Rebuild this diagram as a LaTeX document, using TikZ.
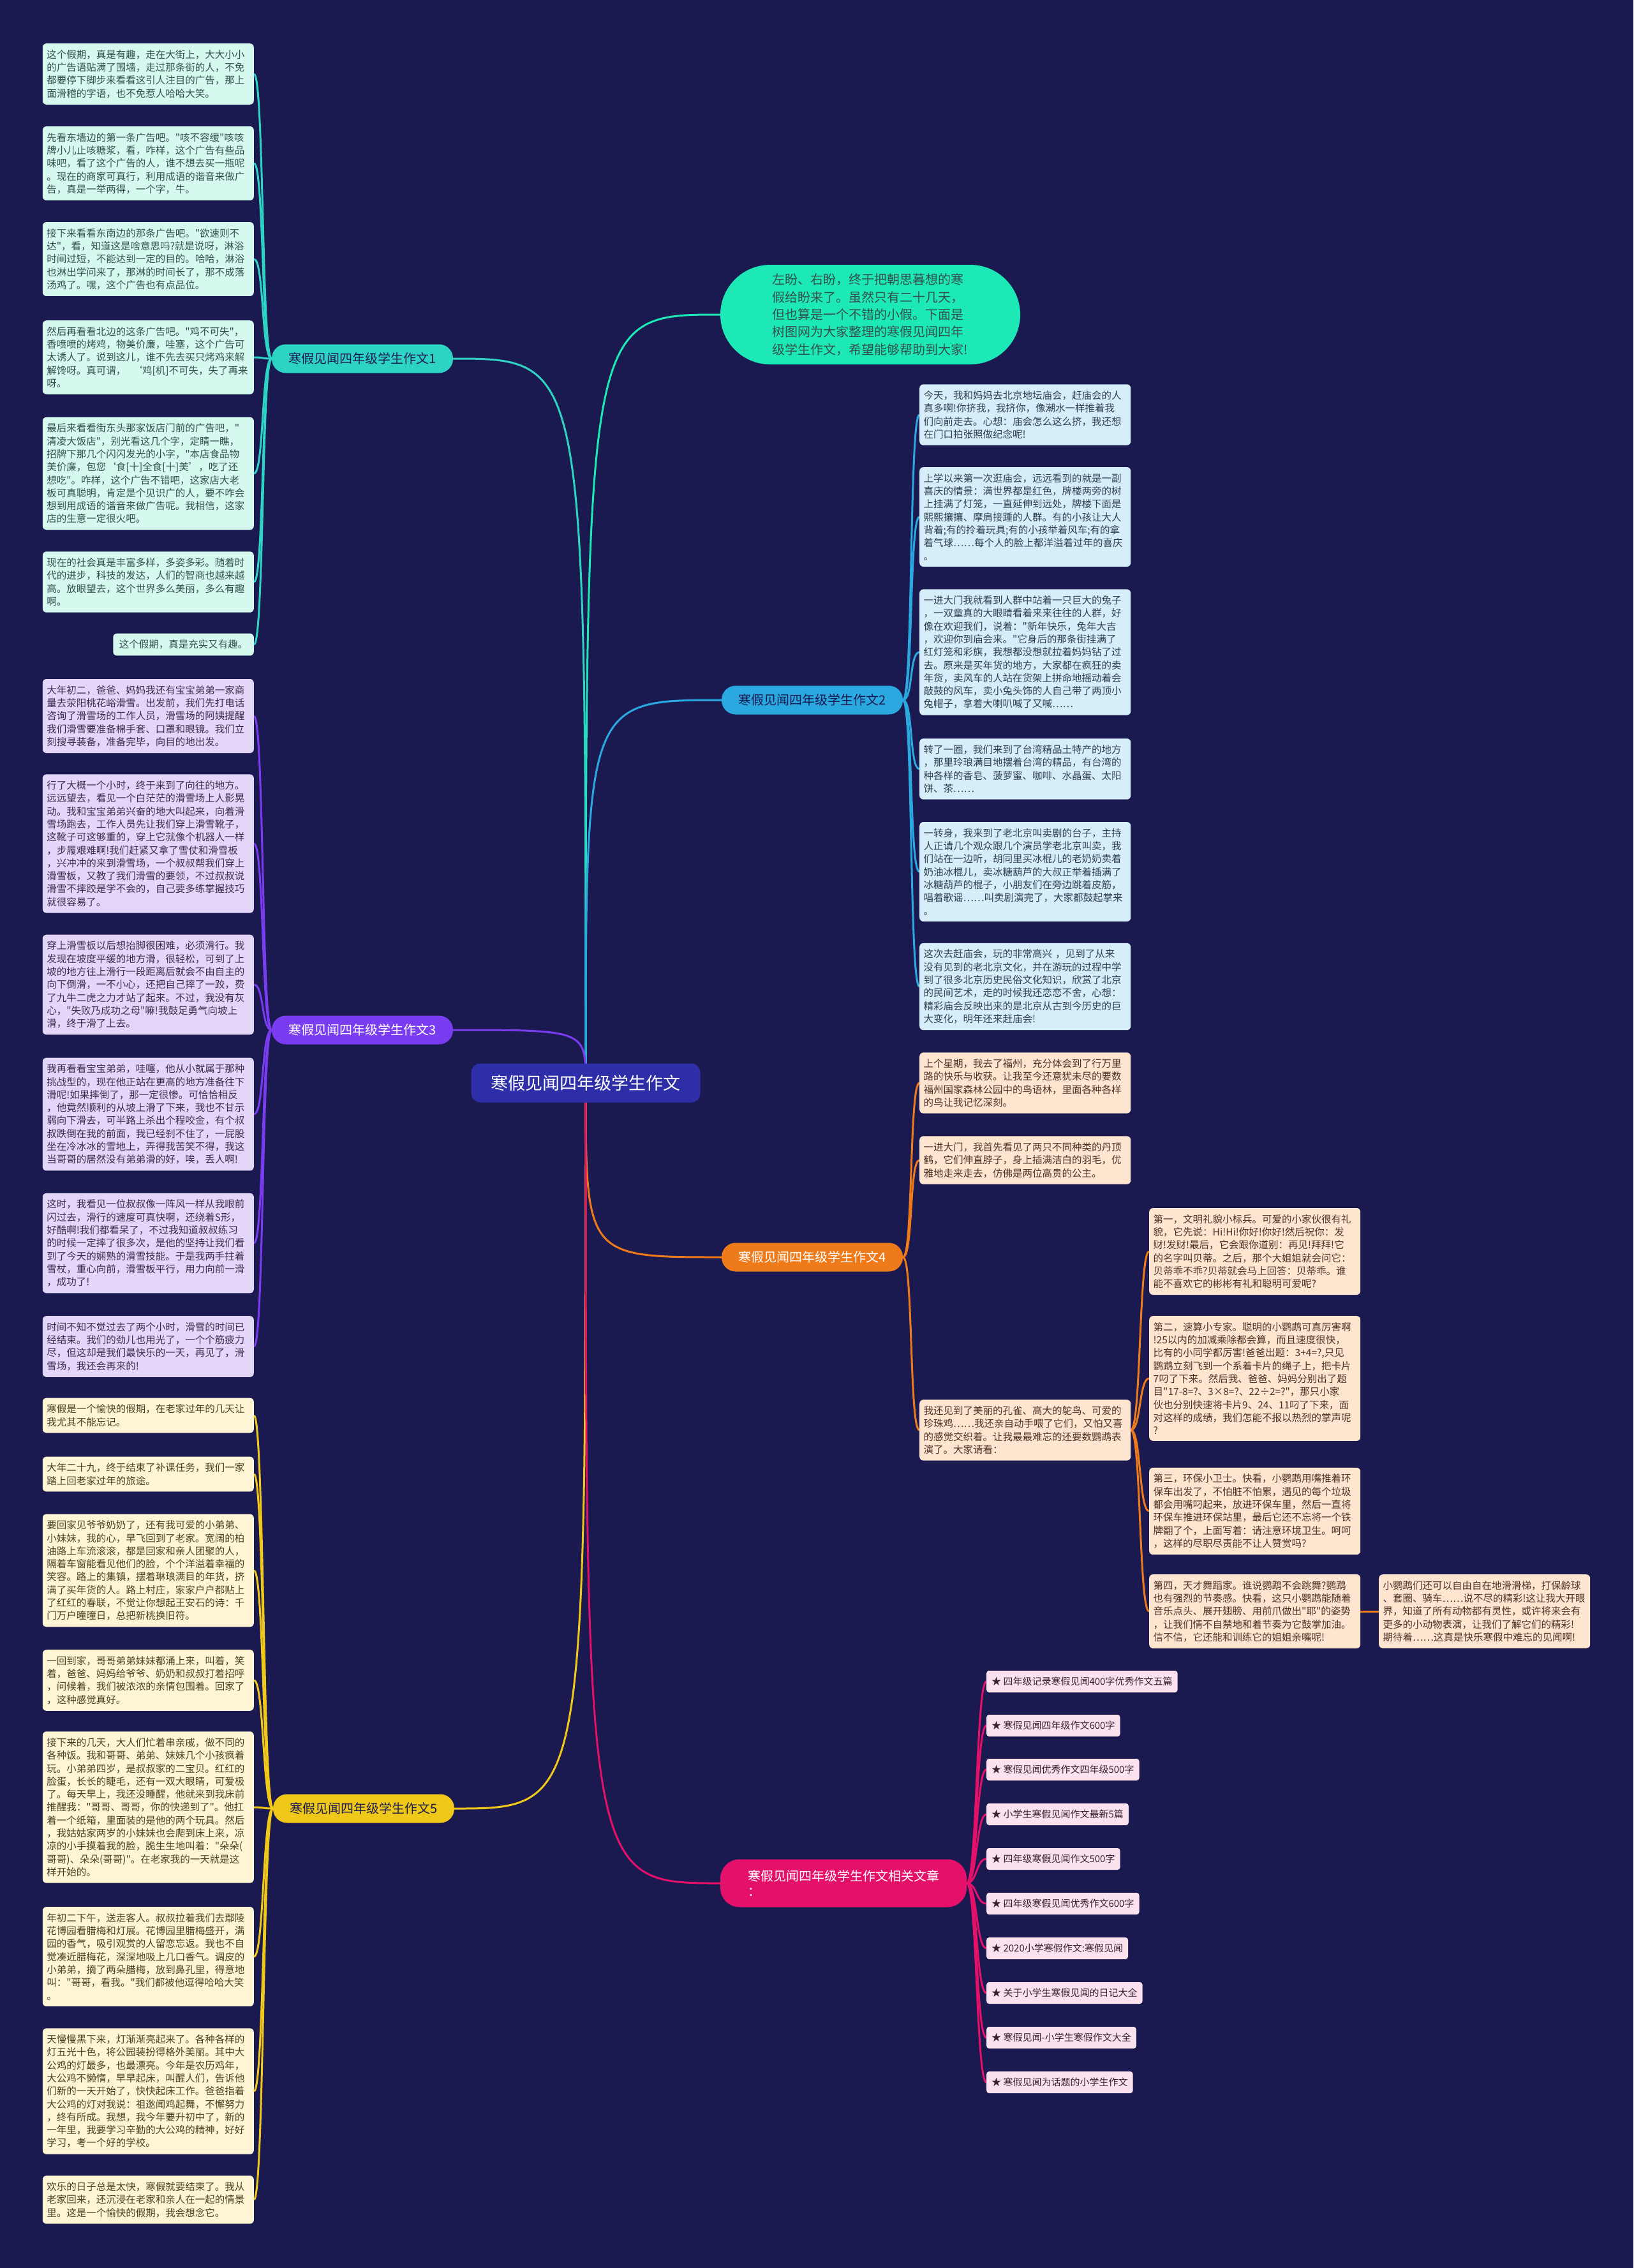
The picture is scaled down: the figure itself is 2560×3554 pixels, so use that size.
\documentclass[tikz,border=0pt]{standalone}
\usepackage{fontspec}
\setmainfont{Noto Sans CJK SC}[Ligatures=TeXOff]
\usetikzlibrary{calc}
\definecolor{bgc}{HTML}{1B1A50}
\definecolor{c1}{HTML}{2DD4C4}\definecolor{f1}{HTML}{D5F8EF}\definecolor{t1}{HTML}{34504C}
\definecolor{c2}{HTML}{2AA8E0}\definecolor{f2}{HTML}{D6EEFA}\definecolor{t2}{HTML}{2E4050}
\definecolor{c3}{HTML}{7A3CF0}\definecolor{f3}{HTML}{E4D6F8}\definecolor{t3}{HTML}{3A2D4D}
\definecolor{c4}{HTML}{EF7A1A}\definecolor{f4}{HTML}{FDE5CF}\definecolor{t4}{HTML}{4A3426}
\definecolor{c5}{HTML}{EFC81A}\definecolor{f5}{HTML}{FDF5D3}\definecolor{t5}{HTML}{4A4226}
\definecolor{c6}{HTML}{E5106A}\definecolor{f6}{HTML}{FCE2EE}\definecolor{t6}{HTML}{3A2030}
\definecolor{topc}{HTML}{1DE9B6}\definecolor{ctrc}{HTML}{2E2EA8}
\pgfdeclarelayer{bg}
\pgfsetlayers{bg,main}
\tikzset{
  box/.style={rounded corners=6pt, text width=318pt, inner xsep=6.5pt, inner ysep=10pt, align=left, font=\fontsize{15.5}{20.3}\selectfont},
  bxa/.style={box, fill=f1, text=t1, anchor=east},
  bxb/.style={box, fill=f2, text=t2, anchor=west},
  bxc/.style={box, fill=f3, text=t3, anchor=east},
  bxd/.style={box, fill=f4, text=t4, anchor=west},
  bxe/.style={box, fill=f5, text=t5, anchor=east},
  lbl/.style={rounded corners=22pt, minimum width=284pt, minimum height=45pt, inner sep=0pt, font=\fontsize{20}{24}\selectfont},
  relitem/.style={rounded corners=4pt, fill=f6, text=t6, anchor=west, minimum height=34pt, inner xsep=8pt, font=\fontsize{15}{18}\selectfont},
  conn/.style={line width=3pt},
}
\begin{document}
\begin{tikzpicture}[x=1pt,y=-1pt]
\useasboundingbox (0,0) rectangle (2560,3554);

% central and top
\node[fill=ctrc, text=white, rounded corners=14pt, minimum width=359pt, minimum height=61pt, font=\fontsize{27}{32}\selectfont] (ctr) at (918,1697) {寒假见闻四年级学生作文};
\node[fill=topc, text=t1, rounded corners=78pt, minimum width=470pt, minimum height=156pt, align=left, font=\fontsize{20}{27.3}\selectfont] (top) at (1364,493) {左盼、右盼，终于把朝思暮想的寒\\假给盼来了。虽然只有二十几天，\\但也算是一个不错的小假。下面是\\树图网为大家整理的寒假见闻四年\\级学生作文，希望能够帮助到大家!};

% branch labels
\node[lbl, fill=c1, text=bgc] (g1) at (568,562) {寒假见闻四年级学生作文1};
\node[lbl, fill=c2, text=bgc] (g2) at (1273,1097) {寒假见闻四年级学生作文2};
\node[lbl, fill=c3, text=white] (g3) at (568,1614) {寒假见闻四年级学生作文3};
\node[lbl, fill=c4, text=white] (g4) at (1273,1970) {寒假见闻四年级学生作文4};
\node[lbl, fill=c5, text=bgc] (g5) at (570,2834) {寒假见闻四年级学生作文5};
\node[lbl, fill=c6, text=white, minimum width=386pt, minimum height=75pt, rounded corners=30pt, align=left] (g6) at (1322,2951) {寒假见闻四年级学生作文相关文章\\：};

% group 1
\node[bxa] (a1) at (398,116) {这个假期，真是有趣，走在大街上，大大小小\\的广告语贴满了围墙，走过那条街的人，不免\\都要停下脚步来看看这引人注目的广告，那上\\面滑稽的字语，也不免惹人哈哈大笑。};
\node[bxa] (a2) at (398,256) {先看东墙边的第一条广告吧。"咳不容缓"咳咳\\牌小儿止咳糖浆，看，咋样，这个广告有些品\\味吧，看了这个广告的人，谁不想去买一瓶呢\\。现在的商家可真行，利用成语的谐音来做广\\告，真是一举两得，一个字，牛。};
\node[bxa] (a3) at (398,406) {接下来看看东南边的那条广告吧。"欲速则不\\达"，看，知道这是啥意思吗?就是说呀，淋浴\\时间过短，不能达到一定的目的。哈哈，淋浴\\也淋出学问来了，那淋的时间长了，那不成落\\汤鸡了。嘿，这个广告也有点品位。};
\node[bxa] (a4) at (398,560) {然后再看看北边的这条广告吧。"鸡不可失"，\\香喷喷的烤鸡，物美价廉，哇塞，这个广告可\\太诱人了。说到这儿，谁不先去买只烤鸡来解\\解馋呀。真可谓，\ \ ‘鸡[机]不可失，失了再来\\呀。};
\node[bxa] (a5) at (398,742) {最后来看看街东头那家饭店门前的广告吧，"\\清凌大饭店"，别光看这几个字，定睛一瞧，\\招牌下那几个闪闪发光的小字，"本店食品物\\美价廉，包您‘食[十]全食[十]美’，吃了还\\想吃"。咋样，这个广告不错吧，这家店大老\\板可真聪明，肯定是个见识广的人，要不咋会\\想到用成语的谐音来做广告呢。我相信，这家\\店的生意一定很火吧。};
\node[bxa] (a6) at (398,912) {现在的社会真是丰富多样，多姿多彩。随着时\\代的进步，科技的发达，人们的智商也越来越\\高。放眼望去，这个世界多么美丽，多么有趣\\啊。};
\node[bxa, text width={}, inner xsep=9.5pt] (a7) at (398,1010) {这个假期，真是充实又有趣。};

% group 3
\node[bxc] (c1n) at (398,1122) {大年初二，爸爸、妈妈我还有宝宝弟弟一家商\\量去荥阳桃花峪滑雪。出发前，我们先打电话\\咨询了滑雪场的工作人员，滑雪场的阿姨提醒\\我们滑雪要准备棉手套、口罩和眼镜。我们立\\刻搜寻装备，准备完毕，向目的地出发。};
\node[bxc] (c2n) at (398,1322) {行了大概一个小时，终于来到了向往的地方。\\远远望去，看见一个白茫茫的滑雪场上人影晃\\动。我和宝宝弟弟兴奋的地大叫起来，向着滑\\雪场跑去，工作人员先让我们穿上滑雪靴子，\\这靴子可这够重的，穿上它就像个机器人一样\\，步履艰难啊!我们赶紧又拿了雪仗和滑雪板\\，兴冲冲的来到滑雪场，一个叔叔帮我们穿上\\滑雪板，又教了我们滑雪的要领，不过叔叔说\\滑雪不摔跤是学不会的，自己要多练掌握技巧\\就很容易了。};
\node[bxc] (c3n) at (398,1543) {穿上滑雪板以后想抬脚很困难，必须滑行。我\\发现在坡度平缓的地方滑，很轻松，可到了上\\坡的地方往上滑行一段距离后就会不由自主的\\向下倒滑，一不小心，还把自己摔了一跤，费\\了九牛二虎之力才站了起来。不过，我没有灰\\心，"失败乃成功之母"嘛!我鼓足勇气向坡上\\滑，终于滑了上去。};
\node[bxc] (c4n) at (398,1746) {我再看看宝宝弟弟，哇噻，他从小就属于那种\\挑战型的，现在他正站在更高的地方准备往下\\滑呢!如果摔倒了，那一定很惨。可恰恰相反\\，他竟然顺利的从坡上滑了下来，我也不甘示\\弱向下滑去，可半路上杀出个程咬金，有个叔\\叔跌倒在我的前面，我已经刹不住了，一屁股\\坐在冷冰冰的雪地上，弄得我苦笑不得，我这\\当哥哥的居然没有弟弟滑的好，唉，丢人啊!};
\node[bxc] (c5n) at (398,1948) {这时，我看见一位叔叔像一阵风一样从我眼前\\闪过去，滑行的速度可真快啊，还绕着S形，\\好酷啊!我们都看呆了，不过我知道叔叔练习\\的时候一定摔了很多次，是他的坚持让我们看\\到了今天的娴熟的滑雪技能。于是我两手拄着\\雪杖，重心向前，滑雪板平行，用力向前一滑\\，成功了!};
\node[bxc] (c6n) at (398,2110) {时间不知不觉过去了两个小时，滑雪的时间已\\经结束。我们的劲儿也用光了，一个个筋疲力\\尽，但这却是我们最快乐的一天，再见了，滑\\雪场，我还会再来的!};

% group 5
\node[bxe] (e1) at (398,2218) {寒假是一个愉快的假期，在老家过年的几天让\\我尤其不能忘记。};
\node[bxe] (e2) at (398,2310) {大年二十九，终于结束了补课任务，我们一家\\踏上回老家过年的旅途。};
\node[bxe] (e3) at (398,2461) {要回家见爷爷奶奶了，还有我可爱的小弟弟、\\小妹妹，我的心，早飞回到了老家。宽阔的柏\\油路上车流滚滚，都是回家和亲人团聚的人，\\隔着车窗能看见他们的脸，个个洋溢着幸福的\\笑容。路上的集镇，摆着琳琅满目的年货，挤\\满了买年货的人。路上村庄，家家户户都贴上\\了红红的春联，不觉让你想起王安石的诗：千\\门万户曈曈日，总把新桃换旧符。};
\node[bxe] (e4) at (398,2633) {一回到家，哥哥弟弟妹妹都涌上来，叫着，笑\\着，爸爸、妈妈给爷爷、奶奶和叔叔打着招呼\\，问候着，我们被浓浓的亲情包围着。回家了\\，这种感觉真好。};
\node[bxe] (e5) at (398,2832) {接下来的几天，大人们忙着串亲戚，做不同的\\各种饭。我和哥哥、弟弟、妹妹几个小孩疯着\\玩。小弟弟四岁，是叔叔家的二宝贝。红红的\\脸蛋，长长的睫毛，还有一双大眼睛，可爱极\\了。每天早上，我还没睡醒，他就来到我床前\\推醒我："哥哥、哥哥，你的快递到了"。他扛\\着一个纸箱，里面装的是他的两个玩具。然后\\，我姑姑家两岁的小妹妹也会爬到床上来，凉\\凉的小手摸着我的脸，脆生生地叫着："朵朵(\\哥哥)、朵朵(哥哥)"。在老家我的一天就是这\\样开始的。};
\node[bxe] (e6) at (398,3066) {年初二下午，送走客人。叔叔拉着我们去鄢陵\\花博园看腊梅和灯展。花博园里腊梅盛开，满\\园的香气，吸引观赏的人留恋忘返。我也不自\\觉凑近腊梅花，深深地吸上几口香气。调皮的\\小弟弟，摘了两朵腊梅，放到鼻孔里，得意地\\叫："哥哥，看我。"我们都被他逗得哈哈大笑\\。};
\node[bxe] (e7) at (398,3277) {天慢慢黑下来，灯渐渐亮起来了。各种各样的\\灯五光十色，将公园装扮得格外美丽。其中大\\公鸡的灯最多，也最漂亮。今年是农历鸡年，\\大公鸡不懒惰，早早起床，叫醒人们，告诉他\\们新的一天开始了，快快起床工作。爸爸指着\\大公鸡的灯对我说：祖逖闻鸡起舞，不懈努力\\，终有所成。我想，我今年要升初中了，新的\\一年里，我要学习辛勤的大公鸡的精神，好好\\学习，考一个好的学校。};
\node[bxe] (e8) at (398,3447) {欢乐的日子总是太快，寒假就要结束了。我从\\老家回来，还沉浸在老家和亲人在一起的情景\\里。这是一个愉快的假期，我会想念它。};

% group 2
\node[bxb] (b1n) at (1441,650) {今天，我和妈妈去北京地坛庙会，赶庙会的人\\真多啊!你挤我，我挤你，像潮水一样推着我\\们向前走去。心想：庙会怎么这么挤，我还想\\在门口拍张照做纪念呢!};
\node[bxb] (b2n) at (1441,810) {上学以来第一次逛庙会，远远看到的就是一副\\喜庆的情景：满世界都是红色，牌楼两旁的树\\上挂满了灯笼，一直延伸到远处，牌楼下面是\\熙熙攘攘、摩肩接踵的人群。有的小孩让大人\\背着;有的拎着玩具;有的小孩举着风车;有的拿\\着气球……每个人的脸上都洋溢着过年的喜庆\\。};
\node[bxb] (b3n) at (1441,1022) {一进大门我就看到人群中站着一只巨大的兔子\\，一双童真的大眼睛看着来来往往的人群，好\\像在欢迎我们，说着："新年快乐，兔年大吉\\，欢迎你到庙会来。"它身后的那条街挂满了\\红灯笼和彩旗，我想都没想就拉着妈妈钻了过\\去。原来是买年货的地方，大家都在疯狂的卖\\年货，卖风车的人站在货架上拼命地摇动着会\\敲鼓的风车，卖小兔头饰的人自己带了两顶小\\兔帽子，拿着大喇叭喊了又喊……};
\node[bxb] (b4n) at (1441,1205) {转了一圈，我们来到了台湾精品土特产的地方\\，那里玲琅满目地摆着台湾的精品，有台湾的\\种各样的香皂、菠萝蜜、咖啡、水晶蛋、太阳\\饼、茶……};
\node[bxb] (b5n) at (1441,1366) {一转身，我来到了老北京叫卖剧的台子，主持\\人正请几个观众跟几个演员学老北京叫卖，我\\们站在一边听，胡同里买冰棍儿的老奶奶卖着\\奶油冰棍儿，卖冰糖葫芦的大叔正举着插满了\\冰糖葫芦的棍子，小朋友们在旁边跳着皮筋，\\唱着歌谣……叫卖剧演完了，大家都鼓起掌来\\。};
\node[bxb] (b6n) at (1441,1546) {这次去赶庙会，玩的非常高兴 ，见到了从来\\没有见到的老北京文化，并在游玩的过程中学\\到了很多北京历史民俗文化知识，欣赏了北京\\的民间艺术，走的时候我还恋恋不舍，心想：\\精彩庙会反映出来的是北京从古到今历史的巨\\大变化，明年还来赶庙会!};

% group 4
\node[bxd] (d1) at (1441,1697) {上个星期，我去了福州，充分体会到了行万里\\路的快乐与收获。让我至今还意犹未尽的要数\\福州国家森林公园中的鸟语林，里面各种各样\\的鸟让我记忆深刻。};
\node[bxd] (d2) at (1441,1818) {一进大门，我首先看见了两只不同种类的丹顶\\鹤，它们伸直脖子，身上插满洁白的羽毛，优\\雅地走来走去，仿佛是两位高贵的公主。};
\node[bxd] (d3) at (1441,2241) {我还见到了美丽的孔雀、高大的鸵鸟、可爱的\\珍珠鸡……我还亲自动手喂了它们，又怕又喜\\的感觉交织着。让我最最难忘的还要数鹦鹉表\\演了。大家请看：};
\node[bxd] (r1) at (1801,1961) {第一，文明礼貌小标兵。可爱的小家伙很有礼\\貌，它先说：Hi!Hi!你好!你好!然后祝你：发\\财!发财!最后，它会跟你道别：再见!拜拜!它\\的名字叫贝蒂。之后，那个大姐姐就会问它：\\贝蒂乖不乖?贝蒂就会马上回答：贝蒂乖。谁\\能不喜欢它的彬彬有礼和聪明可爱呢?};
\node[bxd] (r2) at (1801,2160) {第二，速算小专家。聪明的小鹦鹉可真厉害啊\\!25以内的加减乘除都会算，而且速度很快，\\比有的小同学都厉害!爸爸出题：3+4=?,只见\\鹦鹉立刻飞到一个系着卡片的绳子上，把卡片\\7叼了下来。然后我、爸爸、妈妈分别出了题\\目"17-8=?、3×8=?、22÷2=?"，那只小家\\伙也分别快速将卡片9、24、11叼了下来，面\\对这样的成绩，我们怎能不报以热烈的掌声呢\\?};
\node[bxd] (r3) at (1801,2368) {第三，环保小卫士。快看，小鹦鹉用嘴推着环\\保车出发了，不怕脏不怕累，遇见的每个垃圾\\都会用嘴叼起来，放进环保车里，然后一直将\\环保车推进环保站里，最后它还不忘将一个铁\\牌翻了个，上面写着：请注意环境卫生。呵呵\\，这样的尽职尽责能不让人赞赏吗?};
\node[bxd] (r4) at (1801,2525) {第四，天才舞蹈家。谁说鹦鹉不会跳舞?鹦鹉\\也有强烈的节奏感。快看，这只小鹦鹉能随着\\音乐点头、展开翅膀、用前爪做出"耶"的姿势\\，让我们情不自禁地和着节奏为它鼓掌加油。\\信不信，它还能和训练它的姐姐亲嘴呢!};
\node[bxd] (r5) at (2161,2525) {小鹦鹉们还可以自由自在地滑滑梯，打保龄球\\、套圈、骑车……说不尽的精彩!这让我大开眼\\界，知道了所有动物都有灵性，或许将来会有\\更多的小动物表演，让我们了解它们的精彩!\\期待着……这真是快乐寒假中难忘的见闻啊!};

% related
\node[relitem] (s1) at (1546,2635) {★ 四年级记录寒假见闻400字优秀作文五篇};
\node[relitem] (s2) at (1546,2704) {★ 寒假见闻四年级作文600字};
\node[relitem] (s3) at (1546,2773) {★ 寒假见闻优秀作文四年级500字};
\node[relitem] (s4) at (1546,2843) {★ 小学生寒假见闻作文最新5篇};
\node[relitem] (s5) at (1546,2913) {★ 四年级寒假见闻作文500字};
\node[relitem] (s6) at (1546,2983) {★ 四年级寒假见闻优秀作文600字};
\node[relitem] (s7) at (1546,3053) {★ 2020小学寒假作文:寒假见闻};
\node[relitem] (s8) at (1546,3123) {★ 关于小学生寒假见闻的日记大全};
\node[relitem] (s9) at (1546,3193) {★ 寒假见闻-小学生寒假作文大全};
\node[relitem] (s10) at (1546,3263) {★ 寒假见闻为话题的小学生作文};

\begin{pgfonlayer}{bg}
\fill[bgc] (0,0) rectangle (2560,3554);
% center to branches
\draw[conn, topc] (ctr.center) .. controls (ctr.center |- top.west) .. (top.west);
\draw[conn, c1] (ctr.center) .. controls (ctr.center |- g1.east) .. (g1.east);
\draw[conn, c2] (ctr.center) .. controls (ctr.center |- g2.west) .. (g2.west);
\draw[conn, c3] (ctr.center) .. controls (ctr.center |- g3.east) .. (g3.east);
\draw[conn, c4] (ctr.center) .. controls (ctr.center |- g4.west) .. (g4.west);
\draw[conn, c5] (ctr.center) .. controls (ctr.center |- g5.east) .. (g5.east);
\draw[conn, c6] (ctr.center) .. controls (ctr.center |- g6.west) .. (g6.west);
% group children
\foreach \n in {a1,a2,a3,a4,a5,a6,a7}
  \draw[conn, c1] (g1.west) .. controls +(-16,0) and +(16,0) .. (\n.east);
\foreach \n in {c1n,c2n,c3n,c4n,c5n,c6n}
  \draw[conn, c3] (g3.west) .. controls +(-16,0) and +(16,0) .. (\n.east);
\foreach \n in {e1,e2,e3,e4,e5,e6,e7,e8}
  \draw[conn, c5] (g5.west) .. controls +(-16,0) and +(16,0) .. (\n.east);
\foreach \n in {b1n,b2n,b3n,b4n,b5n,b6n}
  \draw[conn, c2] (g2.east) .. controls +(16,0) and +(-16,0) .. (\n.west);
\foreach \n in {d1,d2,d3}
  \draw[conn, c4] (g4.east) .. controls +(16,0) and +(-16,0) .. (\n.west);
\foreach \n in {r1,r2,r3,r4}
  \draw[conn, c4] (d3.east) .. controls +(16,0) and +(-16,0) .. (\n.west);
\draw[conn, c4] (r4.east) -- (r5.west);
\foreach \n in {s1,s2,s3,s4,s5,s6,s7,s8,s9,s10}
  \draw[conn, c6] (g6.east) .. controls +(16,0) and +(-16,0) .. (\n.west);
\end{pgfonlayer}
\end{tikzpicture}
\end{document}
